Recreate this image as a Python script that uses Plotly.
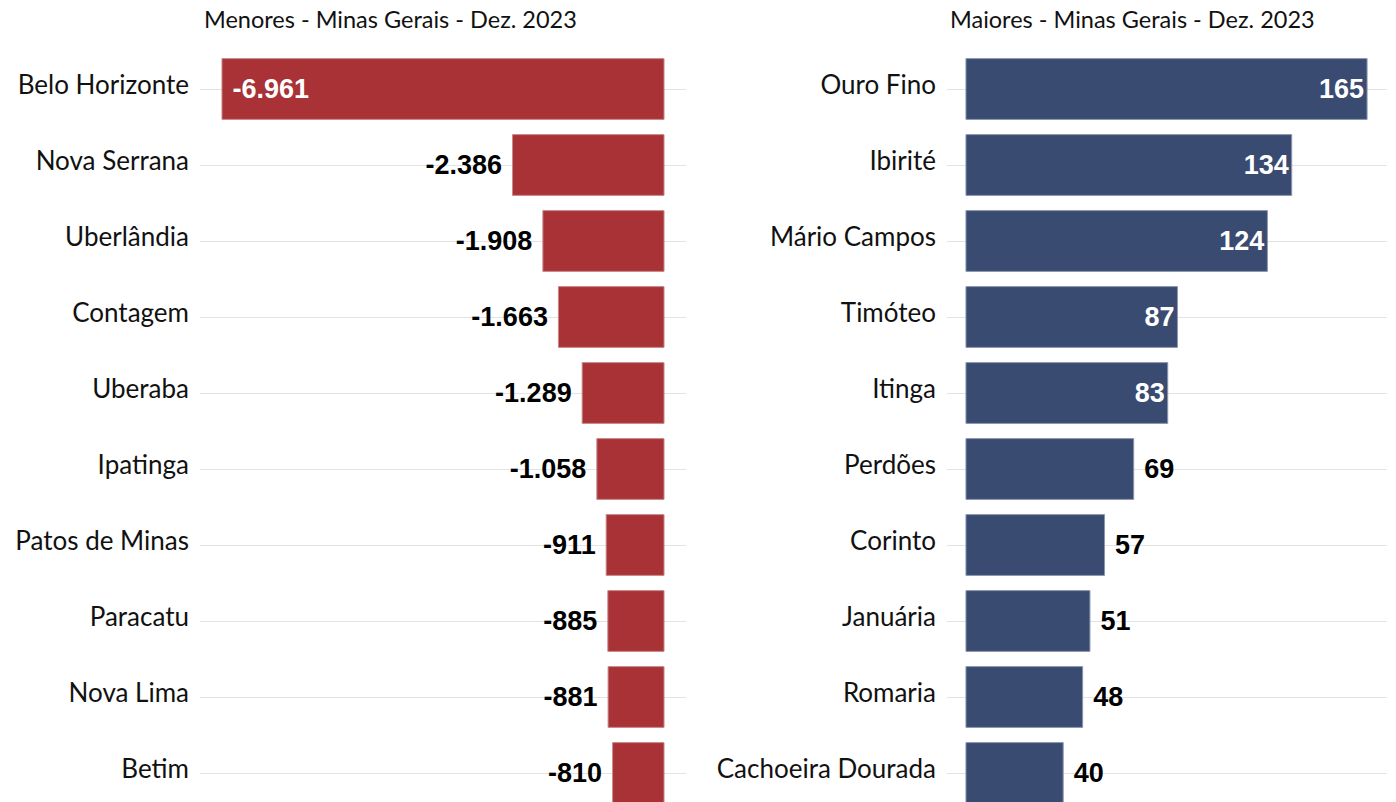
import plotly.graph_objects as go

menores_cidades = ["Belo Horizonte", "Nova Serrana", "Uberlândia", "Contagem", "Uberaba",
                   "Ipatinga", "Patos de Minas", "Paracatu", "Nova Lima", "Betim"]
menores_valores = [-6961, -2386, -1908, -1663, -1289, -1058, -911, -885, -881, -810]

maiores_cidades = ["Ouro Fino", "Ibirité", "Mário Campos", "Timóteo", "Itinga",
                   "Perdões", "Corinto", "Januária", "Romaria", "Cachoeira Dourada"]
maiores_valores = [165, 134, 124, 87, 83, 69, 57, 51, 48, 40]

titulo_menores = "Menores - Minas Gerais - Dez. 2023"
titulo_maiores = "Maiores - Minas Gerais - Dez. 2023"

RED = "#A83236"
BLUE = "#3A4B72"
LABEL_FONT = "Lato"
NB = "\u00a0"
VAL_SIZE = 27

n_in_left = 1
n_in_right = 5

fig = go.Figure()

fig.add_trace(go.Bar(
    x=menores_valores, y=menores_cidades, orientation="h",
    xaxis="x", yaxis="y",
    marker=dict(color=RED, line=dict(color="#C98A8C", width=1)),
    width=0.8,
    texttemplate=[NB + "%{x:,}"] * n_in_left + ["%{x:,}" + NB] * (len(menores_valores) - n_in_left),
    textposition=["inside"] * n_in_left + ["outside"] * (len(menores_valores) - n_in_left),
    insidetextanchor="end",
    insidetextfont=dict(color="white", size=VAL_SIZE, family="Arial", weight="bold"),
    outsidetextfont=dict(color="black", size=VAL_SIZE, family="Arial", weight="bold"),
    textangle=0, cliponaxis=False, hoverinfo="skip",
))

fig.add_trace(go.Bar(
    x=maiores_valores, y=maiores_cidades, orientation="h",
    xaxis="x2", yaxis="y2",
    marker=dict(color=BLUE, line=dict(color="#8A96B0", width=1)),
    width=0.8,
    texttemplate=["%{x:,}"] * n_in_right + [NB + "%{x:,}"] * (len(maiores_valores) - n_in_right),
    textposition=["inside"] * n_in_right + ["outside"] * (len(maiores_valores) - n_in_right),
    insidetextanchor="end",
    insidetextfont=dict(color="white", size=VAL_SIZE, family="Arial", weight="bold"),
    outsidetextfont=dict(color="black", size=VAL_SIZE, family="Arial", weight="bold"),
    textangle=0, cliponaxis=False, hoverinfo="skip",
))

W, H = 1396, 802
T = 51
PH = H - T
yrange = [9.5 - 9 / 76, -0.5]

def px(x):
    return x / W

title_y = 1 + (T - 19) / PH

fig.update_layout(
    width=W, height=H,
    margin=dict(l=0, r=0, t=T, b=0, autoexpand=False),
    paper_bgcolor="white", plot_bgcolor="white",
    showlegend=False,
    separators=",.",
    xaxis=dict(domain=[px(200), px(686)], range=[-7307, 346], visible=False, fixedrange=True),
    yaxis=dict(anchor="x", range=yrange, showgrid=True, gridcolor="#E3E3E3", gridwidth=1,
               zeroline=False, showline=False, ticks="", ticklabelstandoff=10,
               ticklabelshift=4,
               tickfont=dict(family=LABEL_FONT, size=26, color="#111111")),
    xaxis2=dict(domain=[px(947), px(1387)], range=[-7.8, 173.2], visible=False, fixedrange=True),
    yaxis2=dict(anchor="x2", range=yrange, showgrid=True, gridcolor="#E3E3E3", gridwidth=1,
                zeroline=False, showline=False, ticks="", ticklabelstandoff=10,
                ticklabelshift=4,
                tickfont=dict(family=LABEL_FONT, size=26, color="#111111")),
    annotations=[
        dict(text=titulo_menores, x=px(390), y=title_y, xref="paper", yref="paper",
             xanchor="center", yanchor="middle", showarrow=False,
             font=dict(family=LABEL_FONT, size=23.5, color="#111111")),
        dict(text=titulo_maiores, x=px(1132), y=title_y, xref="paper", yref="paper",
             xanchor="center", yanchor="middle", showarrow=False,
             font=dict(family=LABEL_FONT, size=23.5, color="#111111")),
    ],
)

fig.write_html("out.html", config={"displayModeBar": False},
               post_script="document.body.style.margin='0';")
